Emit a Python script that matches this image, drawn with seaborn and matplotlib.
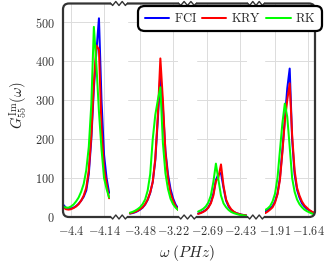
import numpy as np
import pandas as pd
import matplotlib
matplotlib.use("Agg")
import matplotlib.pyplot as plt
import seaborn as sns
from matplotlib.patches import FancyBboxPatch, Rectangle
from matplotlib.lines import Line2D

sns.set_theme(style="whitegrid")
plt.rcParams['mathtext.fontset'] = 'cm'
plt.rcParams['font.family'] = ['DejaVu Serif']

methods = ["FCI", "KRY", "RK"]
palette = {"FCI": "#0000ff", "KRY": "#ff0000", "RK": "#00ff00"}

# ---- segment 1 ----
omega_1 = [-4.46, -4.44, -4.42, -4.40, -4.38, -4.36, -4.34, -4.32, -4.30, -4.28,
           -4.26, -4.24, -4.22, -4.20, -4.18, -4.16, -4.14, -4.12, -4.10]
fci_1 = [31, 24, 22, 22, 24, 28, 34, 42, 52, 68, 110, 200, 330, 425, 510, 300, 160, 100, 62]
kry_1 = [25, 20, 19, 20, 23, 27, 33, 42, 55, 75, 120, 210, 345, 440, 430, 230, 125, 85, 48]
rk_1 = [27, 24, 24, 27, 32, 40, 50, 65, 85, 120, 180, 290, 488, 390, 270, 175, 100, 72, 50]

# ---- segment 2 ----
omega_2 = [-3.56, -3.54, -3.52, -3.50, -3.48, -3.46, -3.44, -3.42, -3.40, -3.38,
           -3.36, -3.34, -3.32, -3.30, -3.28, -3.26, -3.24, -3.22, -3.20, -3.18]
fci_2 = [9, 10, 12, 15, 19, 24, 32, 44, 62, 90, 145, 250, 370, 280, 170, 110, 72, 48, 32, 22]
kry_2 = [9, 11, 13, 16, 20, 25, 33, 45, 63, 90, 150, 260, 407, 300, 165, 100, 62, 42, 28, 18]
rk_2 = [11, 13, 16, 20, 25, 33, 45, 68, 110, 200, 262, 300, 333, 190, 112, 72, 47, 33, 24, 18]

# ---- segment 3 ----
omega_3 = [-2.76, -2.74, -2.72, -2.70, -2.68, -2.66, -2.64, -2.62, -2.60, -2.58,
           -2.56, -2.54, -2.52, -2.50, -2.48, -2.46, -2.44, -2.42, -2.40, -2.38]
fci_3 = [9, 11, 14, 18, 25, 37, 60, 95, 110, 113, 75, 42, 27, 18, 13, 10, 8, 6, 5, 4]
kry_3 = [8, 10, 13, 17, 24, 35, 55, 92, 102, 135, 80, 45, 30, 20, 14, 10, 8, 6, 5, 4]
rk_3 = [14, 17, 21, 27, 37, 55, 90, 137, 95, 55, 35, 25, 18, 13, 10, 8, 6, 5, 4, 3]

# ---- segment 4 ----
omega_4 = [-1.99, -1.97, -1.95, -1.93, -1.91, -1.89, -1.87, -1.85, -1.83, -1.81,
           -1.79, -1.77, -1.75, -1.73, -1.71, -1.69, -1.67, -1.65, -1.63, -1.61, -1.59]
fci_4 = [15, 18, 22, 28, 40, 60, 100, 170, 250, 330, 381, 200, 110, 70, 50, 35, 27, 21, 17, 13, 10]
kry_4 = [10, 14, 19, 25, 37, 58, 95, 165, 245, 300, 343, 210, 120, 75, 55, 40, 30, 24, 18, 14, 11]
rk_4 = [18, 22, 28, 40, 60, 100, 170, 240, 291, 257, 180, 100, 65, 45, 33, 25, 19, 15, 12, 9, 7]

xticks_1 = [-4.4, -4.14]
xticks_2 = [-3.48, -3.22]
xticks_3 = [-2.69, -2.43]
xticks_4 = [-1.91, -1.64]
yticks = [0, 100, 200, 300, 400, 500]

segments = [
    (omega_1, fci_1, kry_1, rk_1, xticks_1, (-4.463, -4.093), (63, 110)),
    (omega_2, fci_2, kry_2, rk_2, xticks_2, (-3.575, -3.181), (128, 178)),
    (omega_3, fci_3, kry_3, rk_3, xticks_3, (-2.769, -2.375), (197, 247)),
    (omega_4, fci_4, kry_4, rk_4, xticks_4, (-1.992, -1.583), (265, 315)),
]

W, H = 326, 266
fig = plt.figure(figsize=(W / 100, H / 100), dpi=100)
fig.patch.set_facecolor("white")

y_top, y_bot = 3.5, 217
tick_fs = 8.8

for i, (om, f, k, r, xt, xl, (px0, px1)) in enumerate(segments):
    ax = fig.add_axes([px0 / W, (H - y_bot) / H, (px1 - px0) / W, (y_bot - y_top) / H])
    df = pd.DataFrame({
        "omega": list(om) * 3,
        "G": list(f) + list(k) + list(r),
        "method": ["FCI"] * len(om) + ["KRY"] * len(om) + ["RK"] * len(om),
    })
    sns.lineplot(data=df, x="omega", y="G", hue="method", hue_order=methods,
                 palette=palette, ax=ax, legend=False, linewidth=1.45,
                 estimator=None, sort=False)
    ax.set_xlim(*xl)
    ax.set_ylim(0, 548)
    ax.set_facecolor("none")
    for s in ax.spines.values():
        s.set_visible(False)
    ax.grid(True, color="#dcdcdc", linewidth=0.7)
    ax.set_xticks(xt)
    ax.set_xticklabels([r"$%g$" % v for v in xt], fontsize=tick_fs)
    ax.set_yticks(yticks)
    if i == 0:
        ax.set_yticklabels([r"$%d$" % v for v in yticks], fontsize=tick_fs)
    else:
        ax.set_yticklabels([])
    ax.tick_params(axis="both", length=0, pad=6, colors="#333333")
    ax.set_xlabel("")
    ax.set_ylabel("")

# overlay for the broken frame
ov = fig.add_axes([0, 0, 1, 1], zorder=10)
ov.set_xlim(0, W)
ov.set_ylim(H, 0)
ov.axis("off")
ov.patch.set_visible(False)
frame_col = "#333333"
ov.add_patch(FancyBboxPatch((63, y_top), 252, y_bot - y_top,
                            boxstyle="round,pad=0,rounding_size=6",
                            fill=False, ec=frame_col, lw=1.6))
gaps = [(110, 128), (178, 197), (247, 265)]
for (g0, g1) in gaps:
    for yy in (y_top, y_bot):
        ov.add_patch(Rectangle((g0 + 1, yy - 2), g1 - g0 - 2, 4, fc="white", ec="none"))
        n = 5
        xs = np.linspace(g0 + 1, g1 - 1, 2 * n + 1)
        ys = yy + np.array([0 if j % 2 == 0 else (2.0 if (j // 2) % 2 == 0 else -2.0) for j in range(2 * n + 1)])
        xs2 = np.concatenate([[g0], xs, [g1]])
        ys2 = np.concatenate([[yy], ys, [yy]])
        ov.plot(xs2, ys2, color=frame_col, lw=1.0)

# legend
handles = [Line2D([0], [0], color=palette[m], lw=1.45) for m in methods]
leg = fig.legend(handles, [r"$\mathrm{%s}$" % m for m in methods], ncol=3,
                 loc="upper right", bbox_to_anchor=(322 / W, 1 - 5.7 / H),
                 bbox_transform=fig.transFigure, fontsize=9, frameon=True,
                 fancybox=True, handlelength=1.95, handletextpad=0.37,
                 columnspacing=0.42, borderpad=0.5, borderaxespad=0)
leg.set_zorder(20)
fr = leg.get_frame()
fr.set_edgecolor("black")
fr.set_linewidth(1.6)
fr.set_alpha(1)
fr.set_boxstyle("round,pad=0,rounding_size=0.5")

fig.text(187.5 / W, 1 - 253 / H, r"$\omega\ (PHz)$", ha="center", va="center", fontsize=11)
fig.text(19 / W, 1 - 105 / H, r"$G^{\mathrm{Im}}_{55}(\omega)$", ha="center", va="center",
         rotation=90, fontsize=10.5)

fig.savefig("out.png", dpi=100)
